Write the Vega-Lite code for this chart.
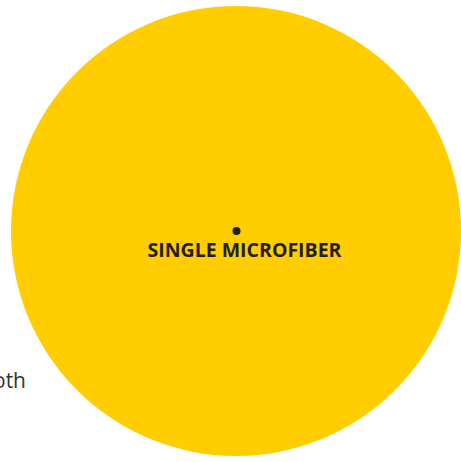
{
  "$schema": "https://vega.github.io/schema/vega-lite/v6.json",
  "autosize": {"type": "fit", "contains": "padding"},
  "width": 461,
  "height": 462,
  "padding": 0,
  "background": "white",
  "config": {"view": {"stroke": null}},
  "datasets": {
    "circles": [
      {"name": "single microfiber", "x": 236, "y": 231, "diameter2": 202500}
    ],
    "dots": [
      {"name": "center", "x": 236.5, "y": 231, "diameter2": 64}
    ],
    "labels": [
      {"label": "SINGLE MICROFIBER", "x": 244.5, "y": 257, "kind": "main"}
    ],
    "side": [
      {"label": "cloth", "x": 26, "y": 388}
    ]
  },
  "encoding": {
    "x": {"field": "x", "type": "quantitative", "scale": {"domain": [0, 461], "nice": false, "zero": false}, "axis": null},
    "y": {"field": "y", "type": "quantitative", "scale": {"domain": [0, 462], "nice": false, "zero": false, "reverse": true}, "axis": null}
  },
  "layer": [
    {
      "data": {"name": "circles"},
      "mark": {"type": "point", "shape": "circle", "filled": true, "color": "#FFCD00", "opacity": 1, "clip": true},
      "encoding": {"size": {"field": "diameter2", "type": "quantitative", "scale": null, "legend": null}}
    },
    {
      "data": {"name": "dots"},
      "mark": {"type": "point", "shape": "circle", "filled": true, "color": "#231F20", "opacity": 1},
      "encoding": {"size": {"field": "diameter2", "type": "quantitative", "scale": null, "legend": null}}
    },
    {
      "data": {"name": "labels"},
      "mark": {"type": "text", "font": "Open Sans", "fontWeight": "bold", "fontSize": 19.5, "color": "#231F20", "align": "center", "baseline": "alphabetic"},
      "encoding": {"text": {"field": "label"}}
    },
    {
      "data": {"name": "side"},
      "mark": {"type": "text", "font": "Open Sans", "fontWeight": "normal", "fontSize": 21, "color": "#333333", "align": "right", "baseline": "alphabetic", "clip": true},
      "encoding": {"text": {"field": "label"}}
    }
  ]
}
